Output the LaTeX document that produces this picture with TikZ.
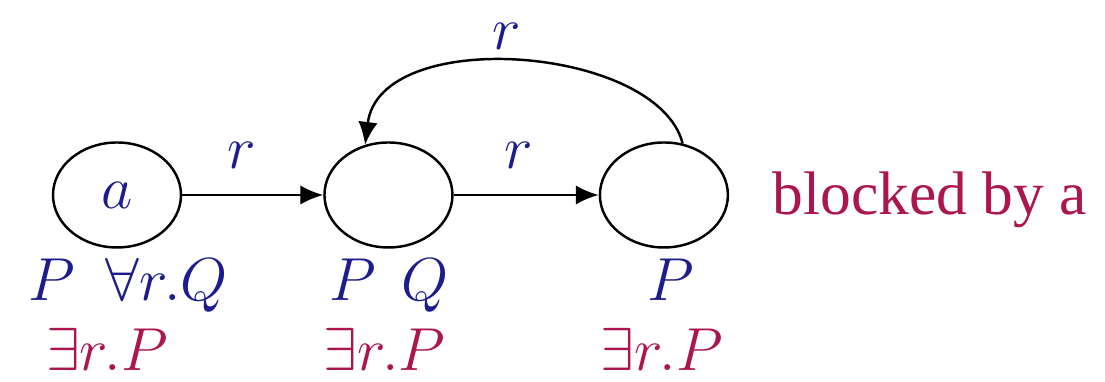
\documentclass[tikz,border=0pt]{standalone}
\usepackage{fontspec}
\setmainfont{Liberation Serif}
\usepackage{amsmath,amssymb}
\usepackage{tikz}
\usetikzlibrary{positioning,arrows.meta,shapes.geometric}
\usepackage{xcolor}

\definecolor{conceptblue}{RGB}{28,28,140}
\definecolor{blockred}{RGB}{172,22,78}
\newcommand{\bigsize}{\fontsize{17.5}{21}\selectfont}

\begin{document}
\begin{tikzpicture}[
    indiv/.style={ellipse, draw=black, line width=0.7pt,
        minimum width=1.28cm, minimum height=1.05cm, inner sep=0pt,
        font=\bigsize, text=conceptblue},
    arrow/.style={-{Latex[length=6.5pt, width=5.5pt]}, line width=0.7pt},
    concept/.style={font=\bigsize, text=conceptblue, inner sep=0pt},
    pending/.style={font=\bigsize, text=blockred, inner sep=0pt}
]
\useasboundingbox (0,0) rectangle (11.05,3.82);

% Individuals
\node[indiv] (a) at (1.17,1.87) {$a$};
\node[indiv, right=1.41cm of a] (b) {};
\node[indiv, right=1.45cm of b] (c) {};

% Role edges
\draw[arrow] (a) -- node[concept, pos=0.42, above=0.25cm] (ab) {$r$} (b);
\draw[arrow] (b) -- node[concept, pos=0.45, above=0.25cm] (bc) {$r$} (c);
\draw[arrow] (c.70) .. controls +(-0.25,0.98) and +(0.15,1.20) ..
    node[concept, pos=0.53, above=0.12cm] (cb) {$r$} (b.115);

% Labels under a
\node[concept, anchor=base] (aL) at ([xshift=0.11cm, yshift=-0.52cm]a.south) {$P\ \ \forall r.Q$};
\node[pending, anchor=base] (aE) at ([xshift=-0.10cm, yshift=-1.22cm]a.south) {$\exists r.P$};

% Labels under the second node
\node[concept, anchor=base] (bL) at ([xshift=0.01cm, yshift=-0.52cm]b.south) {$P\ \,Q$};
\node[pending, anchor=base] (bE) at ([xshift=-0.04cm, yshift=-1.22cm]b.south) {$\exists r.P$};

% Labels under the third node
\node[concept, anchor=base] (cL) at ([xshift=0.07cm, yshift=-0.52cm]c.south) {$P$};
\node[pending, anchor=base] (cE) at ([xshift=-0.02cm, yshift=-1.22cm]c.south) {$\exists r.P$};

% Blocking note
\node[pending, anchor=base west] (blk) at (7.72,1.67) {blocked by a};

\end{tikzpicture}
\end{document}
